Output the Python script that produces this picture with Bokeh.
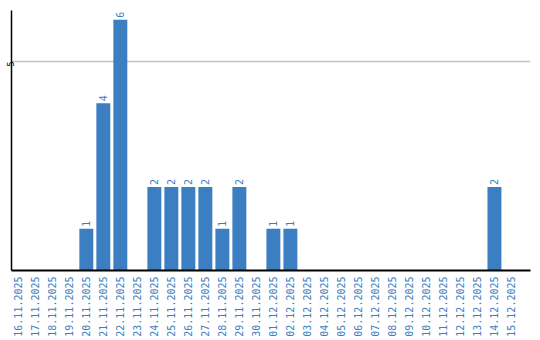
import numpy as np
from bokeh.plotting import figure
from bokeh.models import ColumnDataSource, FixedTicker, Range1d
from bokeh.core.properties import value
from bokeh.embed import file_html
from bokeh.resources import INLINE

dates = ["16.11.2025", "17.11.2025", "18.11.2025", "19.11.2025", "20.11.2025",
         "21.11.2025", "22.11.2025", "23.11.2025", "24.11.2025", "25.11.2025",
         "26.11.2025", "27.11.2025", "28.11.2025", "29.11.2025", "30.11.2025",
         "01.12.2025", "02.12.2025", "03.12.2025", "04.12.2025", "05.12.2025",
         "06.12.2025", "07.12.2025", "08.12.2025", "09.12.2025", "10.12.2025",
         "11.12.2025", "12.12.2025", "13.12.2025", "14.12.2025", "15.12.2025"]
counts = [0, 0, 0, 0, 1, 4, 6, 0, 2, 2, 2, 2, 1, 2, 0,
          1, 1, 0, 0, 0, 0, 0, 0, 0, 0, 0, 0, 0, 2, 0]
y_ticks = [5]

BLUE = "#3b7ec2"

idx = list(range(len(dates)))
src = ColumnDataSource(dict(x=idx, top=counts))
nz = [i for i, c in enumerate(counts) if c > 0]
lab_src = ColumnDataSource(dict(x=[idx[i] for i in nz], y=[counts[i] for i in nz],
                                label=[str(counts[i]) for i in nz]))

p = figure(width=540, height=340, output_backend="svg", toolbar_location=None,
           x_range=Range1d(-0.4, 30.12), y_range=Range1d(0, 6.22),
           min_border_left=10, min_border_right=10, min_border_top=10, min_border_bottom=70)
p.outline_line_color = None
p.background_fill_color = "white"

p.vbar(x="x", top="top", width=0.82, bottom=0, source=src, color=BLUE, line_color=None)
p.text(x="x", y="y", text="label", source=lab_src, angle=np.pi / 2,
       text_align="left", text_baseline="middle", y_offset=-2,
       text_font=value("DejaVu Sans Mono"), text_font_size="10px", text_color=BLUE)

p.xgrid.visible = False
p.ygrid.ticker = FixedTicker(ticks=y_ticks)
p.ygrid.grid_line_color = "#c4c4c4"
p.ygrid.grid_line_width = 1.3

xa = p.xaxis[0]
xa.ticker = FixedTicker(ticks=idx)
xa.major_label_overrides = {i: d for i, d in zip(idx, dates)}
xa.major_label_orientation = np.pi / 2
xa.major_label_text_font = "DejaVu Sans Mono"
xa.major_label_text_font_size = "10px"
xa.major_label_text_color = BLUE
xa.major_tick_line_color = None
xa.minor_tick_line_color = None
xa.major_tick_out = 0
xa.major_label_standoff = 6
xa.axis_line_color = "black"
xa.axis_line_width = 2

ya = p.yaxis[0]
ya.ticker = FixedTicker(ticks=y_ticks)
ya.major_label_orientation = np.pi / 2
ya.major_label_text_font = "DejaVu Sans"
ya.major_label_text_font_size = "8px"
ya.major_label_text_color = "black"
ya.major_tick_line_color = None
ya.minor_tick_line_color = None
ya.major_tick_in = 0
ya.major_tick_out = 0
ya.major_label_standoff = 1
ya.axis_line_color = "black"
ya.axis_line_width = 1.5

open("out.html", "w").write(file_html(p, INLINE))
